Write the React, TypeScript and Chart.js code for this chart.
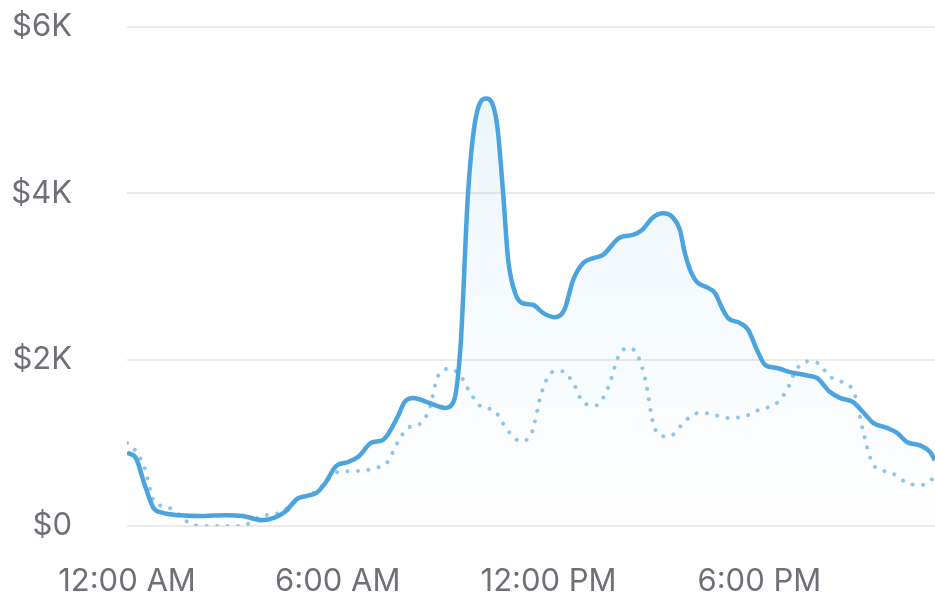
import React, { useEffect, useRef } from "react";
import { Chart, registerables } from "chart.js";

Chart.register(...registerables);

// Time of day in hours (0 = 12:00 AM)
const salesHours = [
  0, 0.25, 0.5, 0.75, 1.0, 1.5, 2.2, 2.8, 3.3, 3.85, 4.2, 4.5, 4.85, 5.1, 5.4, 5.65, 5.95,
  6.3, 6.6, 6.95, 7.3, 7.7, 7.9, 8.15, 8.6, 9.05, 9.3, 9.5, 9.7, 9.9, 10.22, 10.53, 10.7,
  10.85, 11.05, 11.25, 11.55, 11.85, 12.18, 12.45, 12.7, 12.98, 13.27, 13.55, 14.03, 14.4,
  14.66, 14.97, 15.26, 15.54, 15.74, 15.88, 16.03, 16.23, 16.51, 16.74, 16.94, 17.11, 17.45,
  17.68, 17.93, 18.16, 18.5, 18.87, 19.36, 19.64, 20.01, 20.3, 20.67, 20.95, 21.24, 21.63,
  21.92, 22.2, 22.57, 22.86, 23.0,
];
const salesValues = [
  880, 820, 500, 220, 160, 130, 120, 130, 120, 70, 100, 170, 330, 360, 400, 520, 720,
  770, 840, 1000, 1040, 1310, 1490, 1540, 1480, 1420, 1500, 2200, 3950, 4840, 5140, 4840, 4040,
  3200, 2800, 2680, 2660, 2560, 2510, 2600, 2960, 3160, 3220, 3260, 3470, 3500,
  3560, 3710, 3760, 3710, 3560, 3280, 3080, 2930, 2870, 2800, 2620, 2500, 2440,
  2360, 2120, 1940, 1900, 1850, 1810, 1780, 1610, 1540, 1490, 1370, 1240, 1180,
  1120, 1010, 970, 890, 790,
];

const compareHours = [
  0, 0.25, 0.5, 0.75, 1.0, 1.3, 1.6, 1.9, 2.5, 3.3, 3.6, 3.9, 4.2, 4.5, 5.0, 5.4, 5.7, 6.0,
  6.5, 7.1, 7.4, 7.7, 8.0, 8.35, 8.6, 8.85, 9.2, 9.5, 9.8, 10.1, 10.45, 10.8, 11.2, 11.5,
  11.8, 12.1, 12.4, 12.7, 13.0, 13.35, 13.7, 14.0, 14.25, 14.5, 14.75, 15.0, 15.3, 15.5,
  15.9, 16.3, 16.6, 17.1, 17.5, 18.0, 18.5, 18.8, 19.05, 19.4, 19.7, 20.0, 20.4, 20.7,
  20.95, 21.2, 21.5, 21.8, 22.2, 22.55, 22.8, 23.0,
];
const compareValues = [
  1000, 900, 700, 310, 240, 200, 90, 10, 0, 0, 70, 130, 140, 200, 350, 420, 550, 650,
  660, 700, 760, 1000, 1180, 1230, 1400, 1800, 1890, 1800, 1580, 1430, 1390, 1170, 1020, 1100,
  1600, 1850, 1860, 1720, 1480, 1450, 1670, 2050, 2140, 2080, 1770, 1200, 1080, 1090,
  1270, 1360, 1350, 1300, 1310, 1400, 1480, 1650, 1880, 1980, 1950, 1800, 1720, 1600,
  1150, 770, 670, 630, 520, 490, 520, 600,
];

const xTickHours = [0, 6, 12, 18];
const xTickLabels = ["12:00 AM", "6:00 AM", "12:00 PM", "6:00 PM"];
const yTickValues = [0, 2000, 4000, 6000];
const yTickLabels = ["$0", "$2K", "$4K", "$6K"];

const FONT = "Inter, 'Noto Sans', sans-serif";
const TEXT = "#6f6f78";

export default function App() {
  const ref = useRef<HTMLCanvasElement | null>(null);

  useEffect(() => {
    if (!ref.current) return;
    const chart = new Chart(ref.current, {
      type: "line",
      data: {
        datasets: [
          {
            label: "Today",
            data: salesHours.map((h, i) => ({ x: h, y: salesValues[i] })),
            borderColor: "#4ba4de",
            borderWidth: 4.5,
            pointRadius: 0,
            cubicInterpolationMode: "monotone",
            fill: "origin",
            backgroundColor: (ctx: any) => {
              const { chart } = ctx;
              const area = chart.chartArea;
              if (!area) return "rgba(75,164,222,0.05)";
              const g = chart.ctx.createLinearGradient(0, area.top, 0, area.bottom);
              g.addColorStop(0, "rgba(75,164,222,0.12)");
              g.addColorStop(1, "rgba(75,164,222,0.0)");
              return g;
            },
          },
          {
            label: "Comparison",
            data: compareHours.map((h, i) => ({ x: h, y: compareValues[i] })),
            borderColor: "#8fc5ea",
            borderWidth: 4,
            borderDash: [0.01, 10.5],
            borderCapStyle: "round",
            pointRadius: 0,
            cubicInterpolationMode: "monotone",
            fill: false,
          },
        ],
      },
      options: {
        animation: false,
        responsive: true,
        maintainAspectRatio: false,
        layout: { padding: { top: 27, right: 0, bottom: 0, left: 0 } },
        plugins: {
          legend: { display: false },
          tooltip: { enabled: false },
          filler: { drawTime: "beforeDatasetsDraw" },
        },
        scales: {
          x: {
            type: "linear",
            min: 0,
            max: 23,
            border: { display: false },
            grid: { display: false, drawTicks: false },
            afterBuildTicks: (scale: any) => {
              scale.ticks = xTickHours.map((v) => ({ value: v }));
            },
            afterFit: (scale: any) => {
              scale.height = 71;
            },
            ticks: {
              padding: 37,
              color: TEXT,
              font: { family: FONT, size: 31 },
              maxRotation: 0,
              autoSkip: false,
              callback: (v: any) => {
                const i = xTickHours.indexOf(Number(v));
                return i >= 0 ? xTickLabels[i] : "";
              },
            },
          },
          y: {
            min: 0,
            max: 6000,
            border: { display: false },
            grid: { color: "#ebebeb", lineWidth: 2, drawTicks: false },
            afterBuildTicks: (scale: any) => {
              scale.ticks = yTickValues.map((v) => ({ value: v }));
            },
            afterFit: (scale: any) => {
              scale.width = 127;
              scale.paddingTop = 0;
              scale.paddingBottom = 0;
            },
            ticks: {
              padding: 55,
              color: TEXT,
              font: { family: FONT, size: 31 },
              callback: (v: any) => {
                const i = yTickValues.indexOf(Number(v));
                return i >= 0 ? yTickLabels[i] : "";
              },
            },
          },
        },
      },
    });
    return () => chart.destroy();
  }, []);

  return (
    <div style={{ position: "fixed", left: 0, top: 0, width: 935, height: 597, background: "#fff" }}>
      <canvas ref={ref} />
    </div>
  );
}
